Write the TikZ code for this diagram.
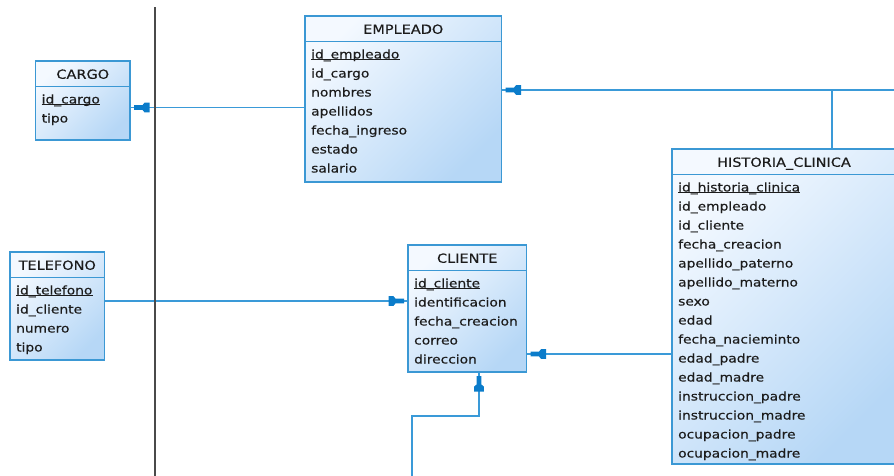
\documentclass[tikz,border=0pt]{standalone}
\usepackage{fontspec}
\newfontfamily\erfont[FakeStretch=1.15,FakeBold=0.35]{DejaVu Sans}
\usetikzlibrary{arrows.meta}

\definecolor{erborder}{HTML}{3B98D4}
\definecolor{erline}{HTML}{3A9AD8}
\definecolor{erhead}{HTML}{0B7CCA}
\definecolor{erlight}{HTML}{F4F9FF}
\definecolor{erdark}{HTML}{B6D7F6}
\definecolor{ertext}{HTML}{1C1C1C}
\definecolor{divider}{HTML}{4A4A4A}

% "one" end of a relationship: thin stub, narrow bar, wide flat-backed head
\pgfdeclarearrow{
  name = ERone,
  setup code = {
    \pgfarrowssettipend{0pt}
    \pgfarrowssetlineend{0pt}
    \pgfarrowssetbackend{-19.5pt}
    \pgfarrowssetvisualbackend{-19.5pt}
    \pgfarrowshullpoint{0pt}{0pt}
    \pgfarrowshullpoint{-19.5pt}{4.8pt}
    \pgfarrowshullpoint{-19.5pt}{-4.8pt}
  },
  drawing code = {
    \pgfpathmoveto{\pgfqpoint{-4pt}{2.4pt}}
    \pgfpathlineto{\pgfqpoint{-12.5pt}{2.4pt}}
    \pgfpathlineto{\pgfqpoint{-14.5pt}{4.8pt}}
    \pgfpathlineto{\pgfqpoint{-19.5pt}{4.8pt}}
    \pgfpathlineto{\pgfqpoint{-19.5pt}{-4.8pt}}
    \pgfpathlineto{\pgfqpoint{-14.5pt}{-4.8pt}}
    \pgfpathlineto{\pgfqpoint{-12.5pt}{-2.4pt}}
    \pgfpathlineto{\pgfqpoint{-4pt}{-2.4pt}}
    \pgfpathclose
    \pgfsetfillcolor{erhead}
    \pgfusepathqfill
  }
}

\tikzset{
  entity/.style={draw=erborder, line width=1.5pt, inner sep=0pt, outer sep=0pt,
    top color=erlight, bottom color=erdark, shading angle=45},
  entborder/.style={draw=erborder, line width=1.5pt},
  etitle/.style={anchor=base, inner sep=0pt, text=ertext,
    font=\erfont\fontsize{12.6}{14}\selectfont},
  attr/.style={anchor=base west, inner sep=0pt, text=ertext,
    font=\erfont\fontsize{12}{14}\selectfont},
  keyline/.style={draw=ertext, line width=0.9pt},
  rel/.style={draw=erline, line width=1.7pt, -ERone},
  plain/.style={draw=erline, line width=1.7pt},
}

% #1 name, #2 left, #3 top, #4 width, #5 height, #6 title, #7 key, #8 other columns
\newcommand{\erentity}[8]{%
  \node[entity, minimum width=#4pt, minimum height=#5pt, anchor=north west] (#1) at (#2,#3) {};
  \draw[entborder] ([yshift=-25.5pt]#1.north west) -- ([yshift=-25.5pt]#1.north east);
  \node[etitle] (#1-t) at ([yshift=-17.8pt]#1.north) {#6};
  \node[attr] (#1-k) at ([xshift=6pt,yshift=-42.5pt]#1.north west) {#7};
  \draw[keyline] ([yshift=-1.4pt]#1-k.base west) -- ([yshift=-1.4pt]#1-k.base east);
  \foreach \a [count=\i] in {#8}
    \node[attr] (#1-\i) at ([xshift=6pt,yshift={-42.5pt-19pt*\i}]#1.north west) {\a};
}

\begin{document}
\begin{tikzpicture}[x=1pt, y=-1pt]
  \useasboundingbox (0,0) rectangle (894,475);
  \clip (0,0) rectangle (894,475);

  \erentity{cargo}{35.5}{61}{94.5}{79}{CARGO}{id\_cargo}{tipo}
  \erentity{emp}{305}{16}{196.5}{166}{EMPLEADO}{id\_empleado}
    {id\_cargo, nombres, apellidos, fecha\_ingreso, estado, salario}
  \erentity{tel}{10}{252}{94.5}{108}{TELEFONO}{id\_telefono}
    {id\_cliente, numero, tipo}
  \erentity{cli}{408}{245}{118.5}{127}{CLIENTE}{id\_cliente}
    {identificacion, fecha\_creacion, correo, direccion}
  \erentity{hist}{672}{149}{224}{315}{HISTORIA\_CLINICA}{id\_historia\_clinica}
    {id\_empleado, id\_cliente, fecha\_creacion, apellido\_paterno,
     apellido\_materno, sexo, edad, fecha\_nacieminto, edad\_padre,
     edad\_madre, instruccion\_padre, instruccion\_madre,
     ocupacion\_padre, ocupacion\_madre}

  % relationship lines
  \coordinate (r1) at (0,107.5);
  \draw[rel] (emp.west |- r1) -- (cargo.east |- r1);

  \coordinate (r2) at (900,90);
  \coordinate (j2) at (832.3,90);
  \draw[rel] (r2) -- (emp.east |- r2);
  \draw[plain] (hist.north -| j2) -- (j2);

  \coordinate (r3) at (0,301);
  \draw[rel] (tel.east |- r3) -- (cli.west |- r3);

  \coordinate (r4) at (0,354);
  \draw[rel] (hist.west |- r4) -- (cli.east |- r4);

  \coordinate (r5) at (411.7,480);
  \coordinate (b5) at (479,416);
  \draw[rel] (r5) |- (b5) -- (cli.south -| b5);

  % vertical divider
  \coordinate (d1) at (154.7,7);
  \coordinate (d2) at (154.7,480);
  \draw[divider, line width=2pt] (d1) -- (d2);
\end{tikzpicture}
\end{document}
